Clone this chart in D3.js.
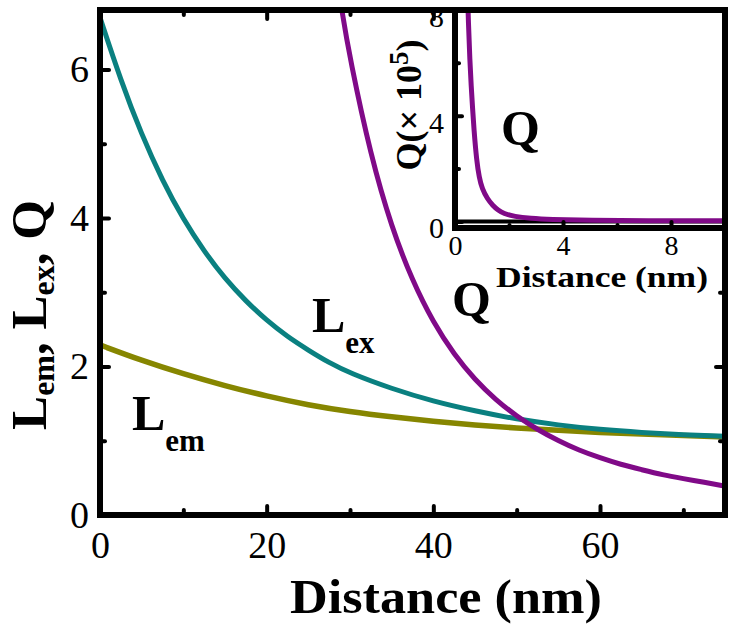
<!DOCTYPE html>
<html>
<head>
<meta charset="utf-8">
<script src="https://cdn.jsdelivr.net/npm/d3@7"></script>
<style>
    body { margin: 0; background: #fff; }
    text { font-family: "Liberation Serif", "Times New Roman", serif; fill: #000; }
</style>
</head>
<body>
<div id="chart"></div>
<script>
// main panel, distance in nm
const lexDist = [0, 2.5, 5, 7.5, 10, 12.5, 15, 17.5, 20, 22.5, 25, 27.5, 30, 35, 40, 45, 50, 55, 60, 65, 70, 75];
const lexVals = [6.70, 5.85, 5.12, 4.50, 3.98, 3.55, 3.18, 2.88, 2.62, 2.40, 2.22, 2.05, 1.91, 1.70, 1.53, 1.40, 1.29, 1.21, 1.15, 1.11, 1.08, 1.06];

const lemDist = [0, 5, 10, 15, 20, 25, 30, 35, 40, 45, 50, 55, 60, 65, 70, 75];
const lemVals = [2.29, 2.08, 1.90, 1.74, 1.60, 1.48, 1.39, 1.32, 1.26, 1.21, 1.17, 1.14, 1.11, 1.09, 1.07, 1.05];

const qDist = [28, 29, 30, 32.5, 35, 37.5, 40, 42.5, 45, 47.5, 50, 52.5, 55, 57.5, 60, 62.5, 65, 67.5, 70, 72.5, 75];
const qVals = [7.55, 6.8, 6.14, 4.83, 3.87, 3.15, 2.59, 2.16, 1.82, 1.55, 1.33, 1.15, 1.00, 0.87, 0.77, 0.68, 0.61, 0.54, 0.49, 0.44, 0.39];

// inset, Q in units of 10^5
const insetDist = [0.45, 0.5, 0.55, 0.6, 0.65, 0.7, 0.8, 0.9, 1.0, 1.2, 1.4, 1.6, 1.8, 2.2, 2.8, 3.5, 5, 7, 10];
const insetQ = [9.2, 7.4, 6.1, 5.1, 4.3, 3.5, 2.3, 1.65, 1.25, 0.85, 0.6, 0.42, 0.3, 0.18, 0.11, 0.07, 0.04, 0.02, 0.02];

// ticks
const xMajor = [0, 20, 40, 60];
const xMinor = [10, 30, 50, 70];
const yMajor = [0, 2, 4, 6];
const yMinor = [1, 3, 5];
const insetXMajor = [0, 4, 8];
const insetXMinor = [2, 6];
const insetYMajor = [0, 4, 8];
const insetYMinor = [2, 6];

const W = 738, H = 632;
const svg = d3.select("#chart").append("svg")
    .attr("width", W)
    .attr("height", H);

// scales
const x = d3.scaleLinear().domain([0, 75]).range([100, 725]);
const y = d3.scaleLinear().domain([0, 6.8]).range([515, 10]);

const xi = d3.scaleLinear().domain([0, 10]).range([455, 725]);
const yi = d3.scaleLinear().domain([-0.25, 8]).range([228, 10]);

const fmt = d3.format("d");

const defs = svg.append("defs");
defs.append("clipPath").attr("id", "mainClip")
    .append("rect").attr("x", 100).attr("y", 10).attr("width", 625).attr("height", 505);
defs.append("clipPath").attr("id", "insetClip")
    .append("rect").attr("x", 455).attr("y", 10).attr("width", 270).attr("height", 218);

const line = (sx, sy) => d3.line()
    .x(d => sx(d[0]))
    .y(d => sy(d[1]))
    .curve(d3.curveBasis);

// curves in main panel
const curves = svg.append("g").attr("clip-path", "url(#mainClip)");
curves.append("path")
    .datum(d3.zip(lemDist, lemVals))
    .attr("d", line(x, y))
    .attr("fill", "none").attr("stroke", "#868600").attr("stroke-width", 5.5);
curves.append("path")
    .datum(d3.zip(lexDist, lexVals))
    .attr("d", line(x, y))
    .attr("fill", "none").attr("stroke", "#0a8080").attr("stroke-width", 5);
curves.append("path")
    .datum(d3.zip(qDist, qVals))
    .attr("d", line(x, y))
    .attr("fill", "none").attr("stroke", "#800a88").attr("stroke-width", 5);

// axes helper: inward ticks, no domain path
function styleAxis(g) {
    g.select(".domain").remove();
    g.selectAll(".tick line")
        .attr("stroke", "#000")
        .attr("stroke-width", 4)
        .attr("stroke-linecap", "round");
}
function styleLabels(size) {
    return g => g.selectAll("text")
        .attr("font-size", size)
        .attr("font-family", "Liberation Serif");
}

// main axes
svg.append("g").attr("transform", "translate(0,515)")
    .call(d3.axisBottom(x).tickValues(xMajor).tickSize(-9).tickPadding(16).tickFormat(fmt))
    .call(styleAxis)
    .call(styleLabels(38));
svg.append("g").attr("transform", "translate(0,515)")
    .call(d3.axisBottom(x).tickValues(xMinor).tickSize(-5).tickFormat(""))
    .call(styleAxis);
svg.append("g").attr("transform", "translate(0,10)")
    .call(d3.axisTop(x).tickValues(xMajor).tickSize(-9).tickFormat(""))
    .call(styleAxis);
svg.append("g").attr("transform", "translate(0,10)")
    .call(d3.axisTop(x).tickValues(xMinor).tickSize(-5).tickFormat(""))
    .call(styleAxis);

svg.append("g").attr("transform", "translate(100,0)")
    .call(d3.axisLeft(y).tickValues(yMajor).tickSize(-9).tickPadding(11).tickFormat(fmt))
    .call(styleAxis)
    .call(styleLabels(38));
svg.append("g").attr("transform", "translate(100,0)")
    .call(d3.axisLeft(y).tickValues(yMinor).tickSize(-5).tickFormat(""))
    .call(styleAxis);
svg.append("g").attr("transform", "translate(725,0)")
    .call(d3.axisRight(y).tickValues(yMajor).tickSize(-9).tickFormat(""))
    .call(styleAxis);
svg.append("g").attr("transform", "translate(725,0)")
    .call(d3.axisRight(y).tickValues(yMinor).tickSize(-5).tickFormat(""))
    .call(styleAxis);

// inset, white box over the main panel
svg.append("rect")
    .attr("x", xi(0)).attr("y", yi(8))
    .attr("width", xi(10) - xi(0)).attr("height", yi(-0.25) - yi(8))
    .attr("fill", "#fff");

// zero line under the inset curve
svg.append("line")
    .attr("x1", xi(0)).attr("x2", xi(10))
    .attr("y1", yi(0)).attr("y2", yi(0))
    .attr("stroke", "#000").attr("stroke-width", 4);

svg.append("g").attr("clip-path", "url(#insetClip)")
    .append("path")
    .datum(d3.zip(insetDist, insetQ))
    .attr("d", line(xi, yi))
    .attr("fill", "none").attr("stroke", "#800a88").attr("stroke-width", 5);

svg.append("g").attr("transform", "translate(0,228)")
    .call(d3.axisBottom(xi).tickValues(insetXMajor).tickSize(-6).tickPadding(7).tickFormat(fmt))
    .call(styleAxis)
    .call(styleLabels(28));
svg.append("g").attr("transform", "translate(0,228)")
    .call(d3.axisBottom(xi).tickValues(insetXMinor).tickSize(-3).tickFormat(""))
    .call(styleAxis);
svg.append("g").attr("transform", "translate(455,0)")
    .call(d3.axisLeft(yi).tickValues(insetYMajor).tickSize(-7).tickPadding(11).tickFormat(fmt))
    .call(styleAxis)
    .call(styleLabels(30))
    .call(g => g.selectAll("text").attr("dy", "0.55em"));
svg.append("g").attr("transform", "translate(455,0)")
    .call(d3.axisLeft(yi).tickValues(insetYMinor).tickSize(-4).tickFormat(""))
    .call(styleAxis);

// frame lines
const frame = svg.append("g").attr("stroke", "#000").attr("stroke-width", 6).attr("stroke-linecap", "square");
frame.append("line").attr("x1", 100).attr("x2", 725).attr("y1", 515).attr("y2", 515);
frame.append("line").attr("x1", 100).attr("x2", 725).attr("y1", 10).attr("y2", 10);
frame.append("line").attr("x1", 100).attr("x2", 100).attr("y1", 10).attr("y2", 515);
frame.append("line").attr("x1", 725).attr("x2", 725).attr("y1", 10).attr("y2", 515);
frame.append("line").attr("x1", xi(0)).attr("x2", xi(10)).attr("y1", 228).attr("y2", 228);
frame.append("line").attr("x1", xi(0)).attr("x2", xi(0)).attr("y1", 10).attr("y2", 228);

// axis titles
svg.append("text")
    .attr("x", 446).attr("y", 613)
    .attr("text-anchor", "middle")
    .attr("font-size", 48).attr("font-weight", "bold")
    .attr("textLength", 312).attr("lengthAdjust", "spacingAndGlyphs")
    .text("Distance (nm)");

const yTitle = svg.append("text")
    .attr("transform", "translate(46,315) rotate(-90)")
    .attr("text-anchor", "middle")
    .attr("font-size", 51).attr("font-weight", "bold");
yTitle.append("tspan").text("L");
yTitle.append("tspan").attr("font-size", 32).attr("dy", 8).text("em");
yTitle.append("tspan").attr("dy", -8).text(", L");
yTitle.append("tspan").attr("font-size", 32).attr("dy", 8).text("ex");
yTitle.append("tspan").attr("dy", -8).text(", Q");

svg.append("text")
    .attr("x", 602).attr("y", 287)
    .attr("text-anchor", "middle")
    .attr("font-size", 30).attr("font-weight", "bold")
    .attr("textLength", 212).attr("lengthAdjust", "spacingAndGlyphs")
    .text("Distance (nm)");

const yiTitle = svg.append("text")
    .attr("transform", "translate(421,105) rotate(-90)")
    .attr("text-anchor", "middle")
    .attr("font-size", 36).attr("font-weight", "bold");
yiTitle.append("tspan").text("Q(\u00d7 10");
yiTitle.append("tspan").attr("font-size", 27).attr("dy", -13).text("5");
yiTitle.append("tspan").attr("dy", 13).text(")");

// curve labels
function subLabel(px, py, big, small) {
    const t = svg.append("text")
        .attr("x", px).attr("y", py)
        .attr("font-size", 50).attr("font-weight", "bold");
    t.append("tspan").text(big);
    if (small) t.append("tspan").attr("font-size", 31).attr("dy", 21).text(small);
}
subLabel(312, 332, "L", "ex");
subLabel(132, 430, "L", "em");
subLabel(452, 316, "Q");
subLabel(501, 145, "Q");
</script>
</body>
</html>
